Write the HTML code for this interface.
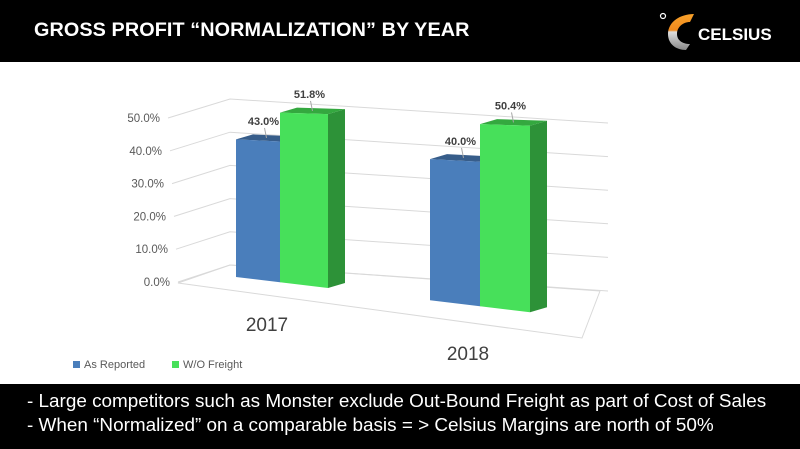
<!DOCTYPE html>
<html><head><meta charset="utf-8"><style>
body{margin:0;width:800px;height:449px;overflow:hidden;background:#fff;font-family:"Liberation Sans",sans-serif;position:relative}
#hdr{position:absolute;left:0;top:0;width:800px;height:62px;background:#000}
#title{position:absolute;left:34px;top:19px;color:#fff;font-weight:bold;font-size:19.8px;letter-spacing:0.1px}
#foot{position:absolute;left:0;top:384px;width:800px;height:65px;background:#000;color:#fff;font-size:18.9px}
#foot div{position:absolute;left:27px;white-space:nowrap}
</style></head><body>
<div id="hdr">
<div id="title">GROSS PROFIT “NORMALIZATION” BY YEAR</div>
<svg style="position:absolute;left:650px;top:8px" width="150" height="48">
<defs><linearGradient id="lg" x1="0" y1="0" x2="0" y2="1"><stop offset="0" stop-color="#f7a12a"/><stop offset="0.45" stop-color="#f08a1e"/><stop offset="0.5" stop-color="#ddd"/><stop offset="1" stop-color="#888"/></linearGradient></defs>
<circle cx="13" cy="8" r="2.5" fill="none" stroke="#fff" stroke-width="1.2"/>
<path d="M44 6 C30 6 18 14 18 26 C18 36 26 42 36 42 L40 36 C32 36 27 32 27 26 C27 19 33 14 40 14 Z" fill="url(#lg)"/>
<text x="48" y="32" fill="#fff" font-size="17" font-weight="bold" font-family="Liberation Sans">CELSIUS</text>
</svg>
</div>
<svg id="chart" width="800" height="449" style="position:absolute;left:0;top:0;pointer-events:none"></svg>
<div id="foot">
<div style="top:7px">- Large competitors such as Monster exclude Out-Bound Freight as part of Cost of Sales</div>
<div style="top:31px">- When “Normalized” on a comparable basis = &gt; Celsius Margins are north of 50%</div>
</div>
<script>
const categories=["2017","2018"];
const seriesNames=["As Reported","W/O Freight"];
const asReported=[43.0,40.0];
const woFreight=[51.8,50.4];
const yTicks=[0,10,20,30,40,50];
const valueLabels=[["43.0%","40.0%"],["51.8%","50.4%"]];

const svg=document.getElementById('chart');
const NS='http://www.w3.org/2000/svg';
function el(t,a){const e=document.createElementNS(NS,t);for(const k in a)e.setAttribute(k,a[k]);svg.appendChild(e);return e;}
function baseY(x){return 277+(x-236)*0.12;}
function kScale(x){return 3.2+(x-236)*0.0017;}
function leftWallX(v){return 178-v*0.2;}
function leftWallY(v){return 282-v*3.28;}
function cornerY(v){return 265-v*3.32;}
function backRightY(v){return 291-v*3.36;}

let f=el('polygon',{points:"178,283 230,265 600,291 582,338",fill:"none",stroke:"#d9d9d9","stroke-width":1});

yTicks.forEach(v=>{
 const g=el('polyline',{points:`${leftWallX(v)},${leftWallY(v)} 230,${cornerY(v)} 608,${backRightY(v)}`,fill:"none",stroke:"#d9d9d9","stroke-width":1});
 
 const t=el('text',{x:leftWallX(v)-8,y:leftWallY(v)+4,"text-anchor":"end","font-size":"11.5",fill:"#595959","font-family":"Liberation Sans"});
 t.textContent=v.toFixed(1)+"%";
 
});
const groupX=[236,430];
const barW=[[44,48],[50,50]];
const colors=[["#4a7ebb","#375d8a","#2f5078"],["#47e05a","#34a83f","#2d9238"]];
const series=[asReported,woFreight];
const dx=17,dy=-5;
categories.forEach((c,i)=>{
 let x=groupX[i];
 series.forEach((s,j)=>{
  const w=barW[i][j];const x0=x,x1=x+w;
  const b0=baseY(x0),b1=baseY(x1);
  const t0=b0-s[i]*kScale(x0),t1=b1-s[i]*kScale(x1);
  const side=el('polygon',{points:`${x1},${t1} ${x1+dx},${t1+dy} ${x1+dx},${b1+dy} ${x1},${b1}`,fill:colors[j][2]});
  
  const top=el('polygon',{points:`${x0},${t0} ${x0+dx},${t0+dy} ${x1+dx},${t1+dy} ${x1},${t1}`,fill:colors[j][1]});
  
  const fr=el('polygon',{points:`${x0},${t0} ${x1},${t1} ${x1},${b1} ${x0},${b0}`,fill:colors[j][0]});
  
  const cx=(x0+x1)/2+dx/2,cy=(t0+t1)/2+dy/2;
  el('line',{x1:cx,y1:cy,x2:cx-2,y2:cy-10,stroke:"#a6a6a6","stroke-width":1});
  const lb=el('text',{x:cx-3,y:cy-13,"text-anchor":"middle","font-size":"11","font-weight":"bold",fill:"#404040","font-family":"Liberation Sans"});
  lb.textContent=valueLabels[j][i];
  
  x=x1;
 });
});
const catPos=[[267,331],[468,360]];
categories.forEach((c,i)=>{
 const t=el('text',{x:catPos[i][0],y:catPos[i][1],"text-anchor":"middle","font-size":"19",fill:"#404040","font-family":"Liberation Sans"});
 t.textContent=c;
});
const legX=[73,172];
seriesNames.forEach((n,j)=>{
 const r=el('rect',{x:legX[j],y:361,width:7,height:7,fill:colors[j][0]});
 
 const t=el('text',{x:legX[j]+11,y:368,"font-size":"11",fill:"#595959","font-family":"Liberation Sans"});
 t.textContent=n;
});
</script>
</body></html>
